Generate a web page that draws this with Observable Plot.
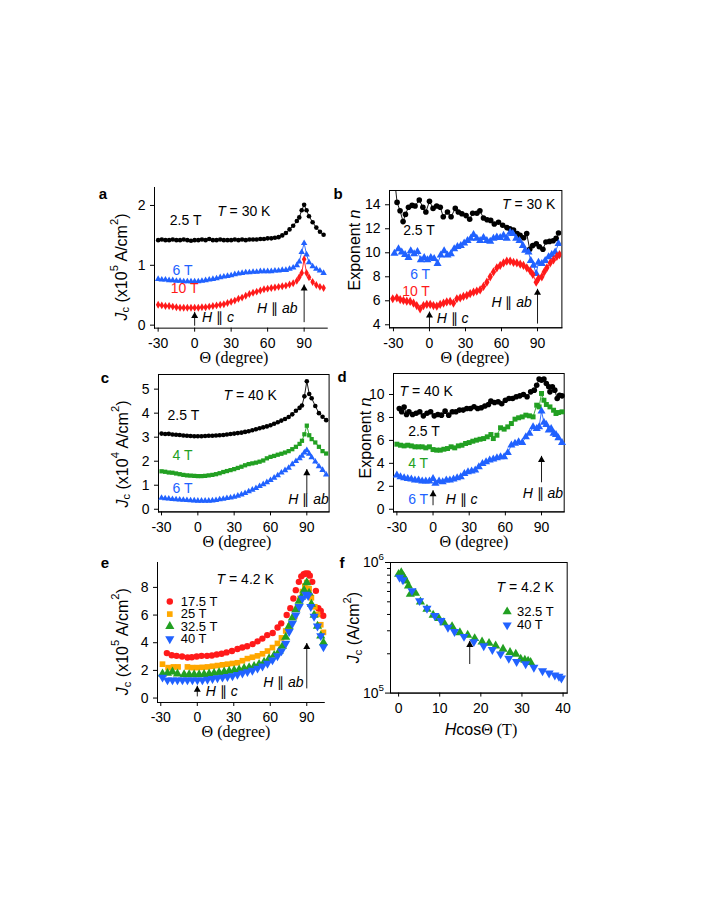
<!DOCTYPE html>
<html><head><meta charset="utf-8">
<script src="https://cdn.jsdelivr.net/npm/d3@7"></script>
<script src="https://cdn.jsdelivr.net/npm/@observablehq/plot@0.6"></script>
<style>
body{margin:0;background:#fff;}
#fig{position:relative;width:708px;height:917px;overflow:hidden;background:#fff;}
#fig svg{position:absolute;overflow:visible;background:transparent;max-width:none;}
</style></head><body><div id="fig"></div>
<script>
const FONT = "'Liberation Sans', Arial, Helvetica, sans-serif";
const SERIF = "'Liberation Serif', 'Times New Roman', serif";
const C = {black:"#000000", blue:"#2162ff", red:"#ff1a1a", green:"#22a022", orange:"#ffa800"};

// ---------- Panel a : Jc (x1e5 A/cm2), T = 30 K ----------
const thetaA = [-30,-27,-24,-21,-18,-15,-12,-9,-6,-3,0,3,6,9,12,15,18,21,24,27,30,33,36,39,42,45,48,51,54,57,60,63,66,69,72,75,78,81,84,86,88,90,92,94,97,100,103,106];
const a25 = [1.42,1.43,1.42,1.42,1.43,1.42,1.42,1.43,1.42,1.41,1.42,1.42,1.43,1.42,1.44,1.42,1.42,1.43,1.42,1.42,1.42,1.43,1.42,1.43,1.42,1.43,1.43,1.43,1.44,1.44,1.45,1.45,1.46,1.47,1.50,1.54,1.60,1.66,1.74,1.80,1.92,2.01,1.92,1.82,1.72,1.63,1.56,1.51];
const a6 = [0.77,0.76,0.76,0.75,0.75,0.74,0.74,0.73,0.73,0.73,0.73,0.73,0.74,0.75,0.76,0.77,0.78,0.80,0.81,0.82,0.83,0.85,0.86,0.87,0.88,0.88,0.89,0.89,0.90,0.90,0.90,0.90,0.91,0.91,0.92,0.92,0.94,0.96,1.00,1.06,1.22,1.37,1.18,1.05,0.98,0.94,0.91,0.87];
const a10 = [0.34,0.33,0.32,0.32,0.31,0.30,0.29,0.29,0.29,0.29,0.29,0.29,0.30,0.30,0.31,0.32,0.33,0.34,0.35,0.37,0.39,0.41,0.44,0.46,0.49,0.52,0.54,0.56,0.58,0.60,0.61,0.62,0.63,0.64,0.65,0.66,0.68,0.70,0.74,0.80,0.87,1.10,0.87,0.80,0.72,0.67,0.64,0.62];

// ---------- Panel b : exponent n, T = 30 K ----------
const thetaB25 = [-28.5,-27,-24.5,-22,-20,-17.5,-14.5,-12,-8.5,-5.5,-3,0,3,6,9,11.5,15,18,21.5,24,27,30.5,33.5,36,39.5,42,45,48,51,54,57.5,61,64.5,67,70,73,75.5,78.5,81,83.5,86,89,91.5,94.5,97,100,103,105.5,107.5];
const b25 = [15.6,14.2,13.5,12.6,13.2,13.8,13.95,13.9,14.4,13.8,13.4,14.3,13.7,13.9,13.8,13.0,13.4,13.0,13.7,13.4,13.25,13.1,12.8,13.3,13.3,13.5,12.9,12.75,12.7,12.4,12.55,12.3,12.1,12.0,11.9,11.6,11.45,11.25,11.6,10.3,10.6,10.75,10.5,10.3,10.9,10.95,11.0,11.2,11.65];
const thetaB6 = [-29.2,-25.8,-23.1,-20.3,-17.5,-15.6,-12.8,-10,-7.2,-4.4,-1.7,1.1,3.9,6.7,9.4,12.2,15,17.8,20.6,23.3,26.1,28.9,31.7,34.4,36.7,39.4,42.2,45,47.8,50.6,53.3,56.1,58.9,61.7,64.4,67.2,69.4,72.2,75,77.8,79.7,82.5,84.4,86.7,88.9,90.8,93.6,96.4,99.2,101.9,104.7,107.5];
const b6 = [9.95,10.33,10.05,9.85,9.6,10.15,9.9,10.1,9.4,9.6,9.4,9.6,9.5,9.1,9.8,10.15,9.8,9.9,10.33,10.5,10.6,10.8,11.0,11.2,11.5,11.2,11.0,11.25,11.0,10.95,11.2,11.3,11.25,11.45,11.2,11.7,11.6,11.2,11.0,10.6,10.2,10.05,9.35,8.95,8.25,9.2,9.1,9.35,9.65,9.85,10.05,10.75];
const thetaB10 = [-30.6,-27.2,-24.4,-21.7,-18.9,-16.1,-13.3,-10.6,-7.8,-5,-2.2,0.6,3.3,6.1,8.9,11.7,14.4,17.2,20,22.8,25.6,28.3,31.1,33.9,36.7,39.4,42.2,45,47.8,50.6,53.3,56.1,58.9,61.7,64.4,67.2,70,72.8,75.6,78.3,81.1,83.9,86.1,88.9,90.8,93.6,95.6,97.8,100.6,103.3,106.1,108.3];
const b10 = [6.17,6.25,6.1,6.03,5.97,5.95,5.8,5.6,5.33,5.6,5.7,5.7,5.6,5.55,5.7,5.8,5.9,5.95,5.8,6.17,6.25,6.36,6.45,6.6,6.72,6.8,6.9,7.2,7.55,8.0,8.4,8.75,8.95,9.15,9.3,9.3,9.2,9.15,9.05,8.95,8.75,8.5,8.2,7.55,7.85,8.0,8.4,8.75,9.15,9.4,9.7,9.85];

// ---------- Panel c : Jc (x1e4 A/cm2), T = 40 K ----------
const thetaC = [-30,-27,-24,-21,-18,-15,-12,-9,-6,-3,0,3,6,9,12,15,18,21,24,27,30,33,36,39,42,45,48,51,54,57,60,63,66,69,72,75,78,81,84,86,88,90,92,94,97,100,103,106];
const c25 = [3.15,3.13,3.14,3.11,3.10,3.09,3.07,3.06,3.05,3.04,3.04,3.04,3.05,3.06,3.06,3.07,3.08,3.09,3.11,3.13,3.15,3.17,3.19,3.22,3.25,3.29,3.33,3.37,3.41,3.45,3.5,3.56,3.62,3.69,3.76,3.84,3.95,4.1,4.22,4.32,4.7,5.33,4.8,4.62,4.3,4.0,3.85,3.71];
const c4 = [1.58,1.56,1.53,1.52,1.49,1.46,1.43,1.41,1.40,1.39,1.38,1.38,1.39,1.41,1.43,1.46,1.50,1.55,1.59,1.63,1.67,1.72,1.77,1.83,1.88,1.91,1.94,1.98,2.03,2.12,2.18,2.22,2.27,2.31,2.36,2.42,2.50,2.60,2.72,2.85,3.12,3.48,3.08,2.92,2.78,2.60,2.42,2.32];
const c6 = [0.47,0.45,0.44,0.42,0.41,0.40,0.39,0.38,0.37,0.36,0.35,0.35,0.35,0.35,0.36,0.38,0.41,0.43,0.46,0.48,0.51,0.56,0.61,0.67,0.74,0.81,0.88,0.96,1.04,1.12,1.21,1.31,1.41,1.52,1.62,1.72,1.87,2.0,2.12,2.22,2.36,2.46,2.30,2.16,1.98,1.78,1.63,1.44];

// ---------- Panel d : exponent n, T = 40 K ----------
const thetaD25 = [-28,-26,-24,-22,-20,-17,-14,-11,-8,-5,-2,1,4,7,10,13,16,19,22,25,28,31,34,37,40,43,46,48,51,54,57,60,63,66,69,72,75,78,81,84,86,88,90,92,94,96,97,99,101,103,105,107];
const d25 = [8.78,8.5,8.9,8.26,8.5,8.26,8.37,8.5,8.14,8.37,8.5,8.14,8.26,8.2,8.55,8.2,8.5,8.5,8.64,8.64,8.78,8.78,8.93,8.78,8.84,9.0,9.13,9.42,9.3,9.36,9.2,9.5,9.65,9.65,9.8,9.88,10.0,9.8,10.23,10.38,10.8,11.34,11.25,11.34,10.96,10.67,10.23,10.67,10.38,9.65,9.94,9.88];
const thetaD4 = [-30,-27,-24,-21,-18,-15,-12,-9,-6,-3,0,3,6,9,12,15,18,21,24,27,30,33,36,39,42,45,48,50,53,56,59,62,65,68,71,74,77,80,83,86,88,90,92,94,97,100,102,104,107];
const d4 = [5.67,5.58,5.52,5.58,5.52,5.44,5.44,5.44,5.35,5.44,5.2,5.15,5.15,5.23,5.29,5.44,5.35,5.52,5.58,5.73,5.81,5.93,6.02,6.1,6.16,6.31,6.51,6.16,6.45,7.1,6.98,7.18,7.47,7.85,7.97,8.05,8.2,8.14,8.05,9.07,8.92,10.09,9.5,9.13,8.92,8.63,8.34,8.43,8.49];
const thetaD6 = [-30,-27,-24,-21,-18,-15,-12,-9,-6,-3,0,2,5,8,11,14,17,20,23,26,29,32,35,38,41,44,47,50,53,56,59,62,65,68,71,74,77,80,83,86,88,90,92,94,96,98,100,102,104,107];
const d6 = [2.97,2.82,2.73,2.67,2.62,2.53,2.53,2.44,2.44,2.44,2.67,2.24,2.44,2.38,2.53,2.53,2.62,2.73,2.82,3.11,3.26,3.31,3.4,3.69,3.98,4.13,4.27,4.36,4.48,4.56,4.56,4.94,5.58,5.73,5.87,5.81,6.31,6.6,7.18,7.03,7.18,8.55,7.56,7.38,6.89,7.03,6.6,6.51,6.22,5.81];

// ---------- Panel e : Jc (x1e5 A/cm2), T = 4.2 K ----------
const thetaE17 = [-25,-21,-17,-12.5,-8,-4.5,-0.5,3.5,8,12,16,20,24,28.5,33,37,41,45.5,49.5,53.5,57.5,62,66,69,73.5,76.5,79,81,83.5,85.5,87.5,89,91,92.5,94.5,97.5,99.5,101.5,103.5];
const e17 = [3.25,3.1,3.05,3.0,2.93,2.95,3.0,3.05,3.05,3.08,3.15,3.2,3.3,3.4,3.55,3.65,3.75,3.9,4.1,4.3,4.55,4.7,5.1,5.4,6.0,6.5,7.2,7.8,8.4,8.8,8.95,9.0,9.0,8.85,8.4,7.75,6.5,6.3,5.95];
const thetaE25 = [-28.6,-24,-19.6,-15.8,-8.1,-4,0,4.2,8.4,12.5,16.6,20.7,24.8,28.9,33,37.1,41.2,45.3,49.5,53.6,57.7,61.8,65.9,69.2,72.7,76.3,80.1,82.3,84.5,86.4,88.4,90,91.9,93.8,96.6,98.8,101.5,103.7];
const e25 = [2.45,2.2,2.25,2.25,2.25,2.2,2.2,2.22,2.25,2.3,2.35,2.4,2.45,2.5,2.55,2.7,2.85,2.95,3.05,3.2,3.4,3.65,3.95,4.35,4.85,5.2,5.9,6.5,7.2,7.7,8.1,8.35,7.9,7.25,6.6,6.05,5.3,4.75];
const thetaE32 = [-28.6,-24.5,-20.4,-16.3,-10.8,-6.7,-2.6,1.5,5.6,9.7,13.8,17.9,22.1,26.2,30.3,34.4,38.5,42.6,46.7,50.8,54.9,59,63.2,67.3,70,72.7,75.5,78.2,81,83.7,85.6,87.8,90,91.9,93.8,96,98.8,101.5,103.7];
const e32 = [1.75,1.8,1.9,1.75,1.7,1.7,1.7,1.7,1.72,1.75,1.8,1.85,1.9,1.95,2.0,2.05,2.15,2.2,2.3,2.45,2.6,2.85,3.1,3.4,3.75,4.4,5.2,5.8,6.4,7.0,7.3,7.8,8.35,7.6,6.8,6.0,5.2,4.5,4.0];
const thetaE40 = [-28.6,-24.5,-20.4,-16.3,-12.2,-8.1,-4,0.1,4.2,8.4,12.5,16.6,20.7,24.8,28.9,33,37.1,41.2,45.3,49.5,53.6,57.7,61.8,65.9,69.2,72.7,75.5,78.2,81,83.7,86.4,89.2,91.1,93.3,96,98.8,101.5,103.7];
const e40 = [1.5,1.3,1.3,1.3,1.3,1.3,1.3,1.3,1.3,1.35,1.4,1.45,1.5,1.55,1.6,1.7,1.8,1.9,2.0,2.15,2.3,2.5,2.75,3.05,3.4,3.95,4.8,5.4,6.0,6.6,7.2,7.5,7.4,6.6,5.9,5.2,4.5,3.7];

// ---------- Panel f : Jc (A/cm2) vs H cos(theta), T = 4.2 K ----------
const hF32 = [0,0.65,1.2,1.8,2.4,2.85,4.1,5.3,6.9,8.4,9.8,11,13,14.9,16.8,18.5,20.3,22,23.6,25.4,27.1,28.5,29.7,30.7,31.5,32.1];
const f32 = [8.14e5,8.38e5,7.82e5,7.24e5,6.63e5,5.72e5,5.82e5,5.0e5,4.40e5,3.96e5,3.73e5,3.47e5,3.24e5,2.91e5,2.78e5,2.62e5,2.47e5,2.41e5,2.30e5,2.17e5,2.05e5,1.99e5,1.82e5,1.79e5,1.76e5,1.72e5];
const hF40 = [0.24,1.06,3.25,5.1,6.9,8.8,10.3,12,13.6,15.9,18.3,20.7,22.8,24.8,26.8,28.7,30.9,32.9,35,36.6,38,39,39.6];
const f40 = [7.68e5,7.36e5,6.07e5,5.09e5,4.45e5,3.91e5,3.58e5,3.18e5,2.95e5,2.71e5,2.47e5,2.30e5,2.15e5,1.99e5,1.84e5,1.74e5,1.67e5,1.57e5,1.48e5,1.42e5,1.37e5,1.34e5,1.30e5];

// tick values
const ticksTheta = [-30,0,30,60,90];
const ticksA = [0,1,2], ticksB = [4,6,8,10,12,14], ticksC = [0,1,2,3,4,5], ticksD = [0,2,4,6,8,10], ticksE = [0,2,4,6,8];
const ticksFx = [0,10,20,30,40], ticksFmajor = [1e5,1e6], ticksFminor = [2e5,3e5,4e5,5e5,6e5,7e5,8e5,9e5];

// ---------- helpers ----------
const triDown = {draw(ctx, size){ const s3 = Math.sqrt(3); const y = -Math.sqrt(size/(s3*3));
  ctx.moveTo(0,-y*2); ctx.lineTo(-s3*y,y); ctx.lineTo(s3*y,y); ctx.closePath(); }};

function series(xs, ys, color, symbol, r, line=true, clip=false){
  const d = xs.map((x,i)=>({x, y: ys[i]}));
  const m = [];
  if (line) m.push(Plot.line(d, {x:"x", y:"y", stroke:color, strokeWidth:0.9, clip}));
  m.push(Plot.dot(d, {x:"x", y:"y", fill:color, stroke:"none", symbol, r, clip}));
  return m;
}
function arrow(x, y1, y2){
  return [Plot.link([{x, y1, y2}], {x1:"x", x2:"x", y1:"y1", y2:"y2", stroke:"#000", strokeWidth:0.9}),
          Plot.dot([{x, y:y2}], {x:"x", y:"y", symbol:"triangle", r:2.6, fill:"#000", stroke:"none", dy:4})];
}
function label(x, y, text, fill, size=14){
  return Plot.text([{x,y,text}], {x:"x", y:"y", text:"text", fill, fontSize:size, textAnchor:"start", fontFamily:FONT});
}
function rich(sel, x, y, parts, opts={}){
  const base = opts.size || 14;
  const t = sel.append("text").attr("x", x).attr("y", y)
    .attr("font-family", opts.family || FONT).attr("font-size", base)
    .attr("fill", opts.fill || "#000").attr("text-anchor", opts.anchor || "start")
    .attr("dominant-baseline", "central");
  if (opts.weight) t.attr("font-weight", opts.weight);
  if (opts.rotate) t.attr("transform", `rotate(-90 ${x} ${y})`);
  let shift = 0;
  for (const p of parts){
    const o = typeof p === "string" ? {t:p} : p;
    const target = o.sub ? 0.3*base : o.sup ? -0.42*base : 0;
    const ts = t.append("tspan").text(o.t);
    if (target !== shift) ts.attr("dy", target - shift);
    shift = target;
    if (o.sub || o.sup) ts.attr("font-size", base*0.7);
    if (o.i) ts.attr("font-style", "italic");
    if (o.family) ts.attr("font-family", o.family);
  }
  return t;
}

const fig = document.getElementById("fig");
const ML=62, MR=14, MT=14, MB=46;
function makePanel(p){
  const [fx0, fx1, fy0, fy1] = p.frame;
  const yopt = Object.assign({domain:p.yDomain, label:null, tickSize:4, tickPadding:5, line:true}, p.y || {});
  const plot = Plot.plot({
    width: fx1-fx0+ML+MR, height: fy1-fy0+MT+MB,
    marginLeft: ML, marginRight: MR, marginTop: MT, marginBottom: MB,
    style: {fontFamily: FONT, fontSize: "14px", color: "#000", background: "transparent", overflow: "visible"},
    x: Object.assign({domain:p.xDomain, label:null, tickSize:4, tickPadding:6, line:true, tickFormat:d=>String(d)}, p.x || {}),
    y: yopt,
    marks: [ ...(p.frameBox ? [Plot.frame({stroke:"#000", strokeWidth:1})] : []), ...p.marks ]
  });
  plot.style.left = (fx0-ML)+"px";
  plot.style.top = (fy0-MT)+"px";
  fig.appendChild(plot);
  return plot;
}
function at(plot, x, y){ return [plot.scale("x").apply(x), plot.scale("y").apply(y)]; }
function hpar(sub){ return [{t:"H", i:true}, " \u2225 ", {t:sub, i:true}]; }

// ---------- Panel a ----------
const pa = makePanel({
  frame:[153.65, 326.4, 187.05, 327.7], xDomain:[-33,109], yDomain:[-0.05,2.3],
  x:{ticks:ticksTheta}, y:{ticks:ticksA, tickFormat:d=>String(d)},
  marks:[
    ...series(thetaA, a25, C.black, "circle", 2.3),
    ...series(thetaA, a6, C.blue, "triangle", 2.4),
    ...series(thetaA, a10, C.red, "diamond", 2.4),
    ...arrow(0, -0.01, 0.22), ...arrow(90, 0.05, 0.68),
    label(-20.4, 1.75, "2.5 T", C.black), label(-18.2, 0.91, "6 T", C.blue), label(-19.6, 0.61, "10 T", C.red)
  ]
});
{ const s = d3.select(pa);
  rich(s, ...at(pa, 40.8, 1.9), [{t:"T",i:true}, " = 30 K"], {anchor:"middle"});
  rich(s, ...at(pa, 6.5, 0.13), hpar("c"));
  rich(s, ...at(pa, 51.7, 0.28), hpar("ab")); }

// ---------- Panel b ----------
const pb = makePanel({
  frame:[389.3, 561.7, 190, 327.3], xDomain:[-33.3,110.3], yDomain:[3.75,15.19], frameBox:true,
  x:{ticks:ticksTheta}, y:{ticks:ticksB, tickFormat:d=>String(d)},
  marks:[
    ...series(thetaB25, b25, C.black, "circle", 2.8, true, true),
    ...series(thetaB6, b6, C.blue, "triangle", 3.0, true, true),
    ...series(thetaB10, b10, C.red, "diamond", 2.8, true, true),
    ...arrow(0, 3.8, 5.1), ...arrow(90, 4.1, 7.0),
    label(-21.9, 11.86, "2.5 T", C.black), label(-16.1, 8.19, "6 T", C.blue), label(-22.75, 6.78, "10 T", C.red)
  ]
});
{ const s = d3.select(pb);
  rich(s, ...at(pb, 83.1, 14.0), [{t:"T",i:true}, " = 30 K"], {anchor:"middle"});
  rich(s, ...at(pb, 6.4, 4.53), hpar("c"));
  rich(s, ...at(pb, 52, 5.88), hpar("ab")); }

// ---------- Panel c ----------
const pc = makePanel({
  frame:[157.7, 328.3, 374.3, 511.7], xDomain:[-32.5,108.4], yDomain:[-0.11,5.61], frameBox:true,
  x:{ticks:ticksTheta}, y:{ticks:ticksC, tickFormat:d=>String(d)},
  marks:[
    ...series(thetaC, c25, C.black, "circle", 2.3),
    ...series(thetaC, c4, C.green, "square", 2.4),
    ...series(thetaC, c6, C.blue, "triangle", 2.4),
    ...arrow(90, 0.65, 1.67),
    label(-25, 3.89, "2.5 T", C.black), label(-20.9, 2.22, "4 T", C.green), label(-20.9, 0.875, "6 T", C.blue)
  ]
});
{ const s = d3.select(pc);
  rich(s, ...at(pc, 43.7, 4.72), [{t:"T",i:true}, " = 40 K"], {anchor:"middle"});
  rich(s, ...at(pc, 75.1, 0.42), hpar("ab")); }

// ---------- Panel d ----------
const pd = makePanel({
  frame:[393.3, 564, 373.3, 511.7], xDomain:[-32.8,108.8], yDomain:[-0.23,11.83], frameBox:true,
  x:{ticks:ticksTheta}, y:{ticks:ticksD, tickFormat:d=>String(d)},
  marks:[
    ...series(thetaD25, d25, C.black, "circle", 2.8),
    ...series(thetaD4, d4, C.green, "square", 2.8),
    ...series(thetaD6, d6, C.blue, "triangle", 3.0),
    ...arrow(0, 0.35, 1.66), ...arrow(90, 2.35, 4.65),
    label(-20.6, 6.8, "2.5 T", C.black), label(-20.6, 4.0, "4 T", C.green), label(-20.6, 0.87, "6 T", C.blue)
  ]
});
{ const s = d3.select(pd);
  rich(s, ...at(pd, -5.3, 10.23), [{t:"T",i:true}, " = 40 K"], {anchor:"middle"});
  rich(s, ...at(pd, 10.9, 0.87), hpar("c"));
  rich(s, ...at(pd, 74.8, 1.4), hpar("ab")); }

// ---------- Panel e ----------
const pe = makePanel({
  frame:[156.7, 323.5, 561.7, 701.7], xDomain:[-32.7,104.4], yDomain:[-0.32,9.8],
  x:{ticks:ticksTheta}, y:{ticks:ticksE, tickFormat:d=>String(d)},
  marks:[
    ...series(thetaE17, e17, C.red, "circle", 3.2, false),
    ...series(thetaE25, e25, C.orange, "square", 3.2, false),
    ...series(thetaE32, e32, C.green, "triangle", 3.4, false),
    ...series(thetaE40, e40, C.blue, triDown, 3.4, false),
    ...arrow(0, 0.12, 0.89), ...arrow(90, 0.7, 3.98),
    Plot.dot([{x:-22.6,y:6.98}], {x:"x", y:"y", fill:C.red, symbol:"circle", r:3.2}),
    Plot.dot([{x:-22.6,y:6.07}], {x:"x", y:"y", fill:C.orange, symbol:"square", r:3.2}),
    Plot.dot([{x:-22.6,y:5.18}], {x:"x", y:"y", fill:C.green, symbol:"triangle", r:3.4}),
    Plot.dot([{x:-22.6,y:4.27}], {x:"x", y:"y", fill:C.blue, symbol:triDown, r:3.4}),
    label(-13.6, 6.98, "17.5 T", "#000", 13), label(-13.6, 6.07, "25 T", "#000", 13),
    label(-13.6, 5.18, "32.5 T", "#000", 13), label(-13.6, 4.27, "40 T", "#000", 13)
  ]
});
{ const s = d3.select(pe);
  rich(s, ...at(pe, 39.8, 8.55), [{t:"T",i:true}, " = 4.2 K"], {anchor:"middle"});
  rich(s, ...at(pe, 7.4, 0.48), hpar("c"));
  rich(s, ...at(pe, 54.6, 1.1), hpar("ab")); }

// ---------- Panel f ----------
const pf = makePanel({
  frame:[390, 566.7, 561.7, 692.3], xDomain:[-1.97,41.0], yDomain:[1e5,1e6], frameBox:true,
  x:{ticks:ticksFx}, y:{type:"log", line:false},
  marks:[
    Plot.axisY({ticks:ticksFmajor, tickSize:5, tickFormat:()=>"", label:null}),
    Plot.axisY({ticks:ticksFminor, tickSize:3, tickFormat:()=>"", label:null}),
    ...series(hF32, f32, C.green, "triangle", 3.4, false),
    ...series(hF40, f40, C.blue, triDown, 3.4, false),
    ...arrow(17.3, 1.67e5, 2.51e5),
    Plot.dot([{x:26.4,y:4.2e5}], {x:"x", y:"y", fill:C.green, symbol:"triangle", r:3.4}),
    Plot.dot([{x:26.4,y:3.32e5}], {x:"x", y:"y", fill:C.blue, symbol:triDown, r:3.4}),
    label(28.8, 4.2e5, "32.5 T", "#000", 13), label(28.8, 3.32e5, "40 T", "#000", 13)
  ]
});
{ const s = d3.select(pf);
  rich(s, ...at(pf, 30.9, 6.44e5), [{t:"T",i:true}, " = 4.2 K"], {anchor:"middle"});
  for (const v of ticksFmajor){
    rich(s, ML-6, pf.scale("y").apply(v), ["10", {t:String(Math.round(Math.log10(v))), sup:true}], {anchor:"end"});
  } }

// ---------- overlay: axis titles and panel letters ----------
const ov = d3.select(fig).append("svg").attr("width",708).attr("height",917)
  .style("left","0px").style("top","0px");
const jc = (e)=>[{t:"J",i:true},{t:"c",sub:true}," (x10",{t:e,sup:true}," A/cm",{t:"2",sup:true},")"];
rich(ov, 120.7, 267, jc("5"), {anchor:"middle", rotate:true, size:16});
rich(ov, 354, 250, ["Exponent ", {t:"n", i:true}], {anchor:"middle", rotate:true, size:16});
rich(ov, 121.7, 454, jc("4"), {anchor:"middle", rotate:true, size:16});
rich(ov, 365, 438, ["Exponent ", {t:"n", i:true}], {anchor:"middle", rotate:true, size:16});
rich(ov, 121.7, 641.7, jc("5"), {anchor:"middle", rotate:true, size:16});
rich(ov, 353.3, 627.5, [{t:"J",i:true},{t:"c",sub:true}," (A/cm",{t:"2",sup:true},")"], {anchor:"middle", rotate:true, size:16});
for (const [x,y] of [[234,357],[475,357],[237,541],[474,541],[236,731]])
  rich(ov, x, y, ["\u0398 (degree)"], {anchor:"middle", size:16, family:SERIF});
rich(ov, 481, 729, [{t:"H",i:true}, "cos", {t:"\u0398 (T)", family:SERIF}], {anchor:"middle", size:16});
for (const [t,x,y] of [["a",103,193],["b",338,193],["c",105,377],["d",342,376],["e",105,562],["f",342,562]])
  rich(ov, x, y, [t], {anchor:"middle", size:15, weight:"bold"});
</script></body></html>
